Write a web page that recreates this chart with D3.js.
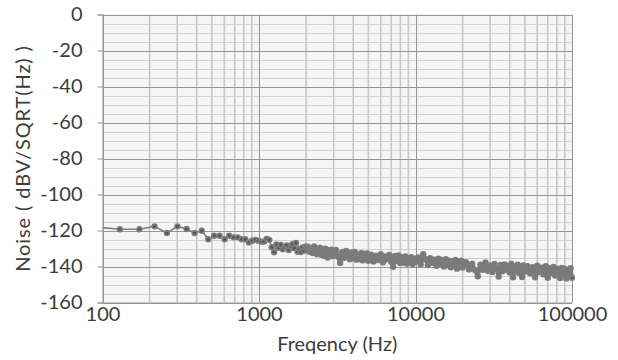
<!DOCTYPE html>
<html>
<head>
<meta charset="utf-8">
<script src="https://cdn.jsdelivr.net/npm/d3@7"></script>
<style>
  body { margin: 0; background: #fff; }
  text { font-family: Lato, "Open Sans", sans-serif; fill: #3c3c3c; }
</style>
</head>
<body>
<div id="chart"></div>
<script>
// measured noise spectrum (Hz, dBV/sqrt(Hz))
var freqs = [86, 129, 172, 215, 258, 301, 345, 388, 431, 474,
  517, 560, 603, 646, 689, 732, 775, 818, 861, 904,
  948, 991, 1034, 1077, 1120, 1163, 1206, 1249, 1292, 1335,
  1378, 1421, 1464, 1507, 1550, 1593, 1637, 1680, 1723, 1766,
  1809, 1852, 1895, 1938, 1981,
  2050, 2100, 2150, 2200, 2250, 2300, 2350, 2400, 2450, 2500,
  2550, 2600, 2650, 2700, 2750, 2800, 2850, 2900, 2950, 3000,
  3100, 3200, 3300, 3400, 3500, 3600, 3700, 3800, 3900, 4000,
  4100, 4200, 4300, 4400, 4500, 4600, 4700, 4800, 4900, 5000,
  5200, 5400, 5600, 5800, 6000, 6200, 6400, 6600, 6800, 7000,
  7200, 7400, 7600, 7800, 8000, 8200, 8400, 8600, 8800, 9000,
  9200, 9400, 9600, 9800, 10000,
  10400, 10800, 11200, 11600, 12000, 12400, 12800, 13200, 13600, 14000,
  14400, 14800, 15200, 15600, 16000, 16400, 16800, 17200, 17600, 18000,
  18400, 18800, 19200, 19600, 20000,
  21000, 22000, 23000, 24000, 25000, 26000, 27000, 28000, 29000, 30000,
  31000, 32000, 33000, 34000, 35000, 36000, 37000, 38000, 39000, 40000,
  41000, 42000, 43000, 44000, 45000, 46000, 47000, 48000, 49000, 50000,
  52000, 54000, 56000, 58000, 60000, 62000, 64000, 66000, 68000, 70000,
  72000, 74000, 76000, 78000, 80000, 82000, 84000, 86000, 88000, 90000,
  92000, 94000, 96000, 98000, 100000];

var noise = [-117.9, -119.3, -119.3, -117.7, -121.4, -117.7, -119.2, -121.4, -120.1, -124.9,
  -122.9, -122.9, -124.9, -122.9, -123.8, -123.8, -124.9, -124.9, -126.6, -125.7,
  -125.2, -125.7, -126.2, -126.2, -124.7, -125.2, -129.3, -132.1, -127.8, -129.6,
  -128.0, -130.4, -129.2, -128.3, -130.8, -128.9, -127.6, -129.8, -126.9, -131.8,
  -130.2, -132.0, -129.4, -131.2, -128.8,
  -129.0, -131.8, -130.2, -132.5, -128.9, -131.0, -133.2, -130.4, -129.6, -133.5,
  -131.2, -134.0, -130.1, -132.8, -135.0, -131.0, -133.6, -130.6, -134.2, -132.0,
  -130.8, -134.6, -138.0, -132.0, -135.2, -131.4, -133.8, -136.0, -132.2, -135.4,
  -131.9, -136.2, -133.4, -135.8, -132.6, -136.6, -133.0, -135.9, -132.8, -136.8,
  -133.5, -137.2, -134.0, -136.4, -133.2, -137.6, -134.4, -135.8, -133.6, -137.4,
  -140.2, -134.2, -137.0, -133.8, -138.0, -135.0, -137.8, -134.4, -138.4, -135.2,
  -137.6, -134.8, -138.6, -135.6, -137.2,
  -135.0, -138.8, -133.2, -136.0, -139.2, -135.4, -138.0, -136.2, -139.6, -135.6,
  -138.8, -136.4, -140.0, -136.0, -139.0, -136.8, -140.4, -137.0, -139.6, -136.4,
  -141.2, -137.4, -139.8, -136.8, -140.6,
  -137.6, -141.6, -138.4, -142.0, -145.4, -139.0, -141.8, -137.8, -142.4, -139.4,
  -143.0, -138.6, -141.4, -145.6, -139.2, -142.6, -138.8, -141.8, -139.6, -143.4,
  -138.6, -146.0, -140.2, -142.8, -139.0, -143.6, -140.0, -145.8, -139.4, -142.8,
  -139.8, -143.8, -140.4, -146.0, -139.6, -143.2, -140.6, -144.4, -139.8, -146.2,
  -141.0, -143.6, -140.2, -145.0, -141.2, -143.8, -146.4, -140.8, -144.2, -141.4,
  -146.6, -142.0, -144.8, -141.0, -146.2];

var xTicks = [100, 1000, 10000, 100000];
var yTicks = [-160, -140, -120, -100, -80, -60, -40, -20, 0];

var W = 618, H = 360;
var plotL = 102.5, plotR = 572, plotT = 14.5, plotB = 302.5;

var svg = d3.select("#chart")
    .append("svg")
    .attr("width", W)
    .attr("height", H);

var x = d3.scaleLog().domain([100, 100000]).range([plotL, plotR]);
var y = d3.scaleLinear().domain([-160, 0]).range([plotB, plotT]);

var data = freqs.map(function (f, i) { return { f: f, v: noise[i] }; });

// plot area
svg.append("rect")
    .attr("x", plotL).attr("y", plotT)
    .attr("width", plotR - plotL).attr("height", plotB - plotT)
    .attr("fill", "#f5f5f5");

// minor grid
var minorX = [];
[100, 1000, 10000].forEach(function (d) {
    for (var k = 2; k <= 9; k++) minorX.push(d * k);
});
var minorY = d3.range(-155, 0, 5).filter(function (v) { return v % 20 != 0; });

function px(v) { return Math.round(v) + 0.5; }

svg.append("g").selectAll("line")
    .data(minorY)
    .enter().append("line")
    .attr("x1", plotL).attr("x2", plotR)
    .attr("y1", function (d) { return px(y(d)); })
    .attr("y2", function (d) { return px(y(d)); })
    .attr("stroke", "#d2d2d2")
    .attr("stroke-width", 1);

svg.append("g").selectAll("line")
    .data(minorX)
    .enter().append("line")
    .attr("x1", function (d) { return x(d); })
    .attr("x2", function (d) { return x(d); })
    .attr("y1", plotT).attr("y2", plotB)
    .attr("stroke", "#c8c8c8")
    .attr("stroke-width", 1.6);

// major grid
svg.append("g").selectAll("line")
    .data(yTicks)
    .enter().append("line")
    .attr("x1", plotL).attr("x2", plotR)
    .attr("y1", function (d) { return px(y(d)); })
    .attr("y2", function (d) { return px(y(d)); })
    .attr("stroke", "#959595");

svg.append("g").selectAll("line")
    .data(xTicks)
    .enter().append("line")
    .attr("x1", function (d) { return px(x(d)); })
    .attr("x2", function (d) { return px(x(d)); })
    .attr("y1", plotT).attr("y2", plotB)
    .attr("stroke", "#959595");

// series
svg.append("clipPath").attr("id", "clip")
    .append("rect")
    .attr("x", plotL).attr("y", plotT)
    .attr("width", plotR - plotL + 4).attr("height", plotB - plotT);

var series = svg.append("g").attr("clip-path", "url(#clip)");

var line = d3.line()
    .x(function (d) { return x(d.f); })
    .y(function (d) { return y(d.v); });

series.append("path")
    .datum(data.filter(function (d) { return d.f <= 2000; }))
    .attr("d", line)
    .attr("fill", "none")
    .attr("stroke", "#808080")
    .attr("stroke-width", 1.6);

series.selectAll("circle")
    .data(data)
    .enter().append("circle")
    .attr("cx", function (d) { return x(d.f); })
    .attr("cy", function (d) { return y(d.v); })
    .attr("r", 2.4)
    .attr("fill", "#555")
    .attr("stroke", "#7e7e7e")
    .attr("stroke-width", 1.6);

// dense part: heavier line on top so the band closes up
series.append("path")
    .datum(data.filter(function (d) { return d.f >= 1900; }))
    .attr("d", line)
    .attr("fill", "none")
    .attr("stroke", "#7a7a7a")
    .attr("stroke-width", 4)
    .attr("stroke-linejoin", "round");

// axes
var fmt = function (d) { return String(d); };

var yAxis = svg.append("g")
    .attr("transform", "translate(" + plotL + ",0)")
    .call(d3.axisLeft(y).tickValues(yTicks).tickSize(5).tickPadding(15).tickFormat(fmt));

var xAxis = svg.append("g")
    .attr("transform", "translate(0," + plotB + ")")
    .call(d3.axisBottom(x).tickValues(xTicks).tickSize(0).tickPadding(4.5).tickFormat(fmt));

[yAxis, xAxis].forEach(function (a) {
    a.select(".domain").attr("stroke", "#959595");
    a.selectAll(".tick line").attr("stroke", "#959595");
    a.selectAll("text")
        .attr("fill", "#3c3c3c")
        .style("font-size", "20px")
        .style("font-family", "Lato, 'Open Sans', sans-serif");
});

svg.append("text")
    .attr("x", (plotL + plotR) / 2)
    .attr("y", 351)
    .attr("text-anchor", "middle")
    .style("font-size", "20px")
    .text("Freqency (Hz)");

svg.append("text")
    .attr("transform", "translate(30," + (plotT + plotB) / 2 + ") rotate(-90)")
    .attr("text-anchor", "middle")
    .style("font-size", "20px")
    .style("letter-spacing", "0.9px")
    .text("Noise ( dBV/SQRT(Hz) )");
</script>
</body>
</html>
